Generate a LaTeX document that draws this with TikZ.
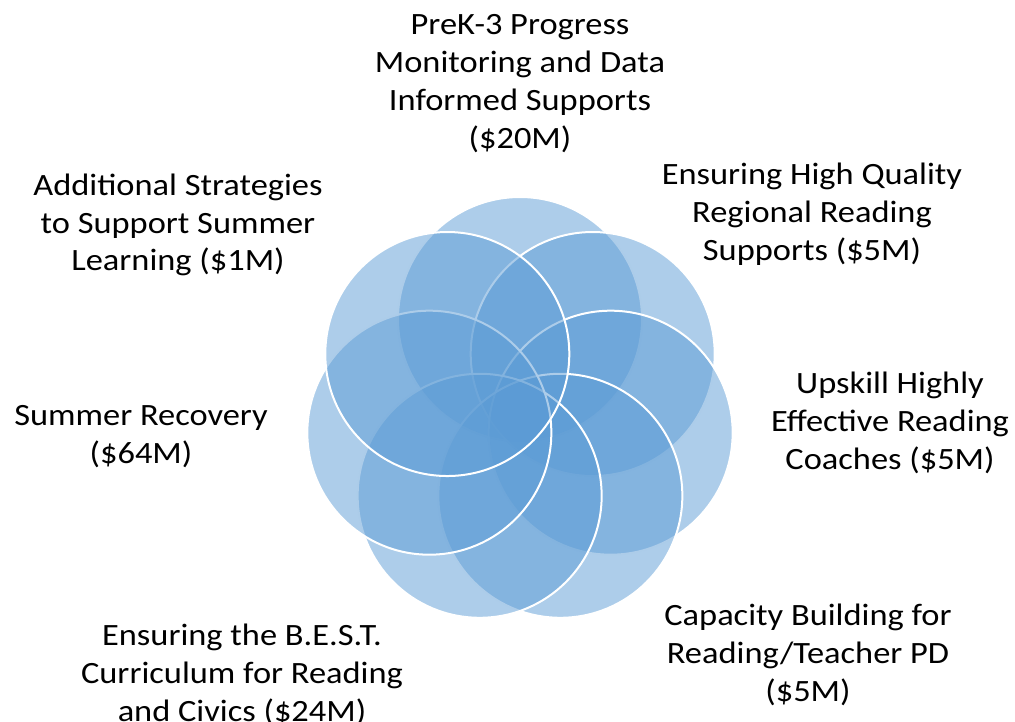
\documentclass[tikz,border=0pt]{standalone}
\usepackage{fontspec}
\setmainfont{Carlito}[FakeStretch=1.11]
\definecolor{petal}{RGB}{91,155,213}
\begin{document}
\begin{tikzpicture}[x=1pt,y=-1pt,
  petalc/.style={circle,minimum size=244pt,inner sep=0pt,outer sep=0pt,
    fill=petal,fill opacity=0.5,draw=white,draw opacity=1,line width=2pt},
  lbl/.style={align=center,anchor=base,inner sep=0pt,
    font=\fontsize{31}{38}\selectfont,text=black}]
\useasboundingbox (0,0) rectangle (1015,722);
\foreach \k in {0,...,6}{
  \pgfmathsetmacro{\ang}{90-\k*360/7}
  \node[petalc] (c\k) at ({520+93*cos(\ang)},{412-93*sin(\ang)}) {};
}
\node[lbl] (t0) at (520,149) {PreK-3 Progress\\Monitoring and Data\\Informed Supports\\(\$20M)};
\node[lbl] (t1) at (812,261) {Ensuring High Quality\\Regional Reading\\Supports (\$5M)};
\node[lbl] (t2) at (890,469) {Upskill Highly\\Effective Reading\\Coaches (\$5M)};
\node[lbl] (t3) at (808,701) {Capacity Building for\\Reading/Teacher PD\\(\$5M)};
\node[lbl] (t4) at (242,721) {Ensuring the B.E.S.T.\\Curriculum for Reading\\and Civics (\$24M)};
\node[lbl] (t5) at (141,463) {Summer Recovery\\(\$64M)};
\node[lbl] (t6) at (178,271) {Additional Strategies\\to Support Summer\\Learning (\$1M)};
\end{tikzpicture}
\end{document}
